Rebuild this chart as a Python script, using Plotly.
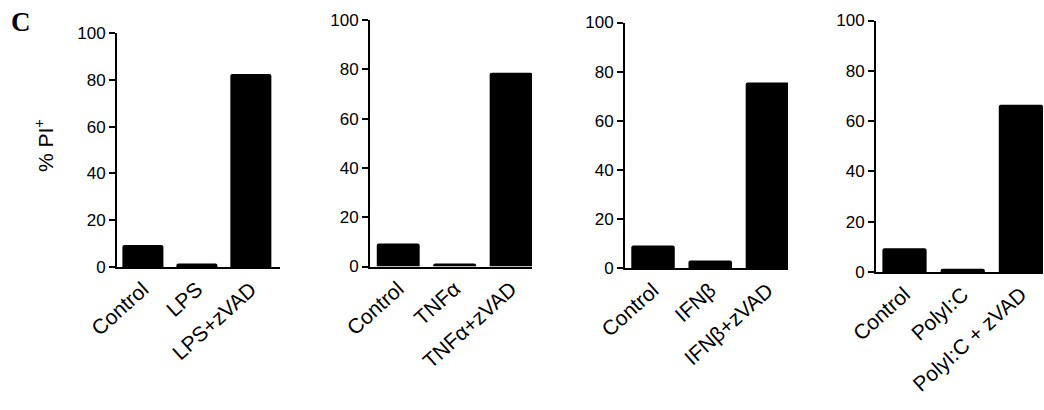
import plotly.graph_objects as go

cats_lps = ["Control", "LPS", "LPS+zVAD"]
cats_tnf = ["Control", "TNFα", "TNFα+zVAD"]
cats_ifn = ["Control", "IFNβ", "IFNβ+zVAD"]
cats_pic = ["Control", "PolyI:C", "PolyI:C + zVAD"]

vals_lps = [9.4, 1.5, 82.5]
vals_tnf = [9.3, 1.2, 78.6]
vals_ifn = [9.2, 3.1, 75.6]
vals_pic = [9.4, 1.3, 66.5]

y_ticks = [0, 20, 40, 60, 80, 100]

W, H = 1044, 410
FONT = "Arial, Liberation Sans, Helvetica, sans-serif"

panels = [
    (cats_lps, vals_lps, (117, 280), (33, 267), [-0.48, 2.54]),
    (cats_tnf, vals_tnf, (370, 532), (20, 266.5), [-0.5, 2.37]),
    (cats_ifn, vals_ifn, (625, 788), (22.5, 268), [-0.49, 2.36]),
    (cats_pic, vals_pic, (876, 1043), (20.5, 272), [-0.49, 2.38]),
]

fig = go.Figure()
layout = dict(
    width=W, height=H,
    margin=dict(l=0, r=0, t=0, b=0, autoexpand=False),
    paper_bgcolor="white", plot_bgcolor="white",
    showlegend=False,
    barcornerradius=2,
    font=dict(family=FONT, color="black", size=17),
)

for i, (cats, vals, (x0, x1), (ytop, ybot), xr) in enumerate(panels, start=1):
    sfx = "" if i == 1 else str(i)
    fig.add_trace(go.Bar(
        x=cats, y=vals, width=0.76,
        marker=dict(color="black", line=dict(width=0)),
        xaxis="x" + sfx, yaxis="y" + sfx,
    ))
    layout["xaxis" + sfx] = dict(
        domain=[x0 / W, x1 / W], anchor="y" + sfx,
        range=xr, type="category", automargin=False,
        showline=True, linecolor="black", linewidth=2,
        ticks="", tickangle=-42, showgrid=False, zeroline=False,
        tickfont=dict(family=FONT, size=21, color="black"),
    )
    layout["yaxis" + sfx] = dict(
        domain=[1 - ybot / H, 1 - ytop / H], anchor="x" + sfx,
        range=[0, 100], tickvals=y_ticks, automargin=False,
        showline=True, linecolor="black", linewidth=2,
        ticks="outside", ticklen=6, tickwidth=2, tickcolor="black",
        showgrid=False, zeroline=False,
        tickfont=dict(family=FONT, size=17, color="black"),
    )

layout["annotations"] = [
    dict(text="% PI<sup>+</sup>", x=44 / W, y=1 - 146 / H, xref="paper", yref="paper",
         textangle=-90, showarrow=False, xanchor="center", yanchor="middle",
         font=dict(family=FONT, size=21, color="black")),
    dict(text="<b>C</b>", x=21 / W, y=1 - 22 / H, xref="paper", yref="paper",
         showarrow=False, xanchor="center", yanchor="middle",
         font=dict(family="Times New Roman, Liberation Serif, serif", size=27, color="black")),
]

fig.update_layout(**layout)
fig.write_html("out.html")
